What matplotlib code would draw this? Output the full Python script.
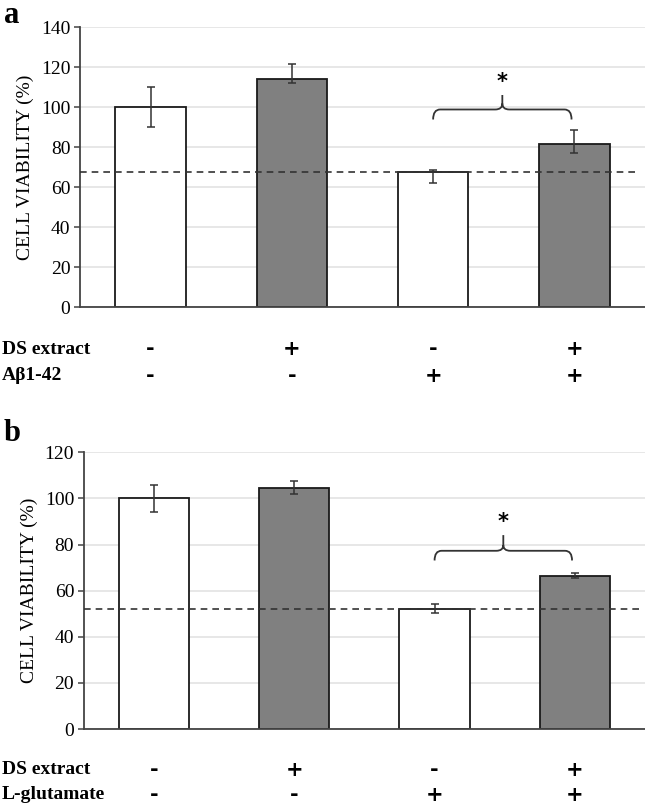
import numpy as np
import matplotlib.pyplot as plt
from matplotlib.path import Path
from matplotlib.patches import PathPatch

plt.rcParams['font.family'] = ['Liberation Serif', 'DejaVu Serif']

# panel a data
a_values = [100, 113.8, 67.3, 81.3]
a_err_low = [10, 1.6, 5.5, 4.3]
a_err_high = [10, 7.9, 1.4, 7.4]
a_baseline = 67.7
a_row1 = ['-', '+', '-', '+']
a_row2 = ['-', '-', '+', '+']
a_labels = ['DS extract', 'Aβ1-42']

# panel b data
b_values = [100, 104.7, 52.0, 66.5]
b_err_low = [5.8, 2.9, 1.8, 1.2]
b_err_high = [5.7, 2.8, 2.3, 1.0]
b_baseline = 52.0
b_row1 = ['-', '+', '-', '+']
b_row2 = ['-', '-', '+', '+']
b_labels = ['DS extract', 'L-glutamate']

fills = ['white', '#808080', 'white', '#808080']


def brace(ax, x0, x1, y, drop, tip):
    xm = (x0 + x1) / 2
    rx = 0.05
    ry = drop * 0.6
    verts = [(x0, y - drop), (x0, y), (x0 + rx, y),
             (xm - rx, y), (xm, y), (xm, y + ry),
             (xm, y + tip),
             (xm, y + ry), (xm, y), (xm + rx, y),
             (x1 - rx, y), (x1, y), (x1, y - drop)]
    codes = [Path.MOVETO, Path.CURVE3, Path.CURVE3,
             Path.LINETO, Path.CURVE3, Path.CURVE3,
             Path.LINETO,
             Path.MOVETO, Path.CURVE3, Path.CURVE3,
             Path.LINETO, Path.CURVE3, Path.CURVE3]
    ax.add_patch(PathPatch(Path(verts, codes), fill=False, edgecolor='#333333', lw=1.3))


def panel(ax, values, lo, hi, base, ymax, step, rows, labels, brace_y, drop, tip, star_y, row_y):
    x = np.arange(len(values))
    ax.bar(x, values, width=0.5, color=fills, edgecolor='#1a1a1a', linewidth=1.3, zorder=2)
    ax.errorbar(x, values, yerr=[lo, hi], fmt='none', ecolor='#333333', elinewidth=1.1,
                capsize=3, capthick=1.1, zorder=3)
    ax.axhline(base, xmin=0, xmax=0.99, color='#333333', ls=(0, (4, 3)), lw=1.2, zorder=4)
    ax.set_xlim(-0.5, 3.5)
    ax.set_ylim(0, ymax)
    ax.set_yticks(np.arange(0, ymax + 1, step))
    ax.yaxis.grid(True, color='#e3e3e3', lw=1.2, zorder=0)
    ax.set_axisbelow(True)
    ax.set_xticks([])
    for s in ['top', 'right']:
        ax.spines[s].set_visible(False)
    for s in ['left', 'bottom']:
        ax.spines[s].set_color('#444444')
        ax.spines[s].set_linewidth(1.3)
    ax.tick_params(axis='y', labelsize=14, length=4, color='#444444', width=1.1, pad=3)
    ax.set_ylabel('CELL VIABILITY (%)', fontsize=14, labelpad=5)
    brace(ax, 2.0, 2.98, brace_y, drop, tip)
    ax.text(2.49, star_y, '*', ha='center', va='center', fontsize=15, fontweight='bold',
            family='DejaVu Sans',
            bbox=dict(facecolor='white', edgecolor='none', pad=2), zorder=5)
    tr = ax.get_xaxis_transform()
    for r, row in enumerate(rows):
        for i, s in enumerate(row):
            ax.text(i, row_y[r], s, transform=tr, ha='center', va='center',
                    fontsize=15, fontweight='bold', family='DejaVu Sans')
        ax.text(-0.005, row_y[r], labels[r], transform=ax.transAxes, ha='left', va='center',
                fontsize=14, fontweight='bold')


fig = plt.figure(figsize=(6.45, 8.06), dpi=100)
ax1 = fig.add_axes([0.124, 0.619, 0.876, 0.3474])
ax2 = fig.add_axes([0.130, 0.0955, 0.870, 0.3433])

panel(ax1, a_values, a_err_low, a_err_high, a_baseline, 140, 20,
      [a_row1, a_row2], a_labels, 98.8, 5, 7.5, 112.6, [-0.15, -0.246])
panel(ax2, b_values, b_err_low, b_err_high, b_baseline, 120, 20,
      [b_row1, b_row2], b_labels, 77.3, 4.2, 6.8, 89.9, [-0.148, -0.238])

# move the row labels to the figure's left edge
for ax in (ax1, ax2):
    for t in ax.texts:
        if t.get_text() in a_labels + b_labels:
            bb = ax.get_position()
            t.set_transform(fig.transFigure)
            y_ax = t.get_position()[1]
            t.set_position((0.003, bb.y0 + y_ax * bb.height))

fig.text(0.006, 0.999, 'a', fontsize=22, fontweight='bold', va='top')
fig.text(0.006, 0.480, 'b', fontsize=22, fontweight='bold', va='top')

fig.savefig('out.png', dpi=100)
